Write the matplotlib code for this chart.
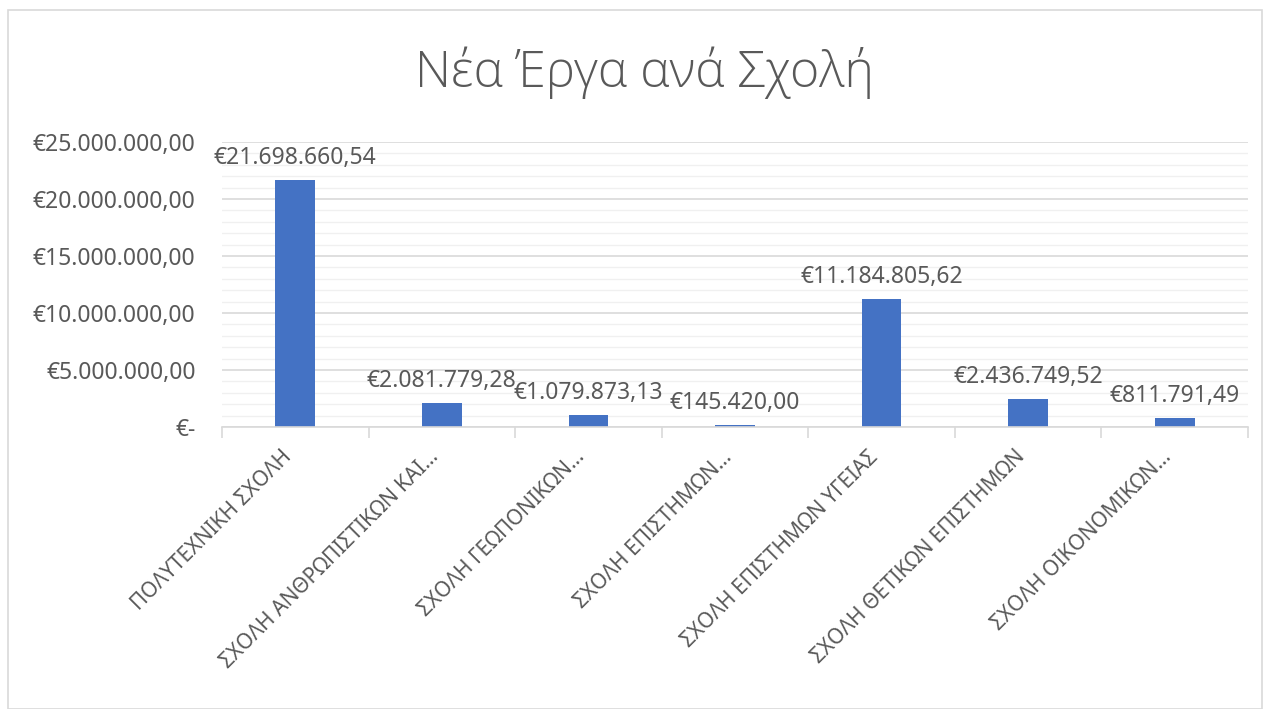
import matplotlib
matplotlib.use("Agg")
import matplotlib.pyplot as plt
import matplotlib.transforms as mtransforms
from matplotlib.ticker import MultipleLocator, FixedLocator, FuncFormatter
from matplotlib.patches import Rectangle

categories = [
    "ΠΟΛΥΤΕΧΝΙΚΗ ΣΧΟΛΗ",
    "ΣΧΟΛΗ ΑΝΘΡΩΠΙΣΤΙΚΩΝ ΚΑΙ…",
    "ΣΧΟΛΗ ΓΕΩΠΟΝΙΚΩΝ…",
    "ΣΧΟΛΗ ΕΠΙΣΤΗΜΩΝ…",
    "ΣΧΟΛΗ ΕΠΙΣΤΗΜΩΝ ΥΓΕΙΑΣ",
    "ΣΧΟΛΗ ΘΕΤΙΚΩΝ ΕΠΙΣΤΗΜΩΝ",
    "ΣΧΟΛΗ ΟΙΚΟΝΟΜΙΚΩΝ…",
]
values = [21698660.54, 2081779.28, 1079873.13, 145420.00, 11184805.62, 2436749.52, 811791.49]
y_ticks = [0, 5000000, 10000000, 15000000, 20000000, 25000000]
title = "Νέα Έργα ανά Σχολή"

TEXT = "#595959"
BAR = "#4472C4"
FONT = ["Noto Sans", "DejaVu Sans"]
TFONT = ["Open Sans", "DejaVu Sans"]
W = "medium"


def euro(v):
    if v == 0:
        return "€-"
    s = f"{v:,.2f}"
    s = s.replace(",", "X").replace(".", ",").replace("X", ".")
    return "€" + s


fig = plt.figure(figsize=(12.71, 7.09), dpi=100)
fig.patch.set_facecolor("white")
fig.add_artist(Rectangle((8 / 1271, 0.0), (1262 - 8) / 1271, 1 - 10 / 709,
                         transform=fig.transFigure, fill=False,
                         edgecolor="#D9D9D9", linewidth=1.2))

ax = fig.add_axes([222 / 1271, 1 - 427 / 709, (1248 - 222) / 1271, (427 - 142) / 709])
x = list(range(len(categories)))
ax.bar(x, values, width=0.27, color=BAR, zorder=3)

ax.set_xlim(-0.5, len(categories) - 0.5)
ax.set_ylim(0, 25000000)

ax.yaxis.set_major_locator(FixedLocator(y_ticks))
ax.yaxis.set_minor_locator(MultipleLocator(1000000))
ax.yaxis.set_major_formatter(FuncFormatter(lambda v, p: euro(v)))
ax.grid(axis="y", which="major", color="#D9D9D9", linewidth=1.2, zorder=0)
ax.grid(axis="y", which="minor", color="#F0F0F0", linewidth=1.0, zorder=0)
ax.set_axisbelow(True)

for side in ["top", "right", "left"]:
    ax.spines[side].set_visible(False)
ax.spines["bottom"].set_color("#D9D9D9")
ax.spines["bottom"].set_linewidth(1.2)
ax.spines["bottom"].set_zorder(4)

ax.tick_params(axis="y", which="both", length=0, pad=19, labelsize=16.5, labelcolor=TEXT)
for lab in ax.get_yticklabels():
    lab.set_family(FONT)
    lab.set_fontweight(W)

ax.set_xticks(x)
ax.set_xticklabels(categories, rotation=45, ha="right", rotation_mode="anchor",
                   fontsize=15, color=TEXT, family=FONT, fontweight=W)
ax.tick_params(axis="x", which="major", length=0, pad=14)
shift = mtransforms.ScaledTranslation(-14 / 100, 0, fig.dpi_scale_trans)
for lab in ax.get_xticklabels():
    lab.set_transform(lab.get_transform() + shift)
ax.set_xticks([i - 0.5 for i in range(len(categories) + 1)], minor=True)
ax.tick_params(axis="x", which="minor", length=8, color="#D9D9D9", width=1.2)

for xi, v in zip(x, values):
    ax.annotate(euro(v), (xi, v), xytext=(0, 10), textcoords="offset pixels",
                ha="center", va="bottom", fontsize=16.5, color=TEXT, family=FONT,
                fontweight=W, zorder=5)

fig.text(644 / 1271, 1 - 73 / 709, title, ha="center", va="center", fontsize=36,
         color=TEXT, family=TFONT, fontweight="light")

fig.savefig("out.png", dpi=100)
